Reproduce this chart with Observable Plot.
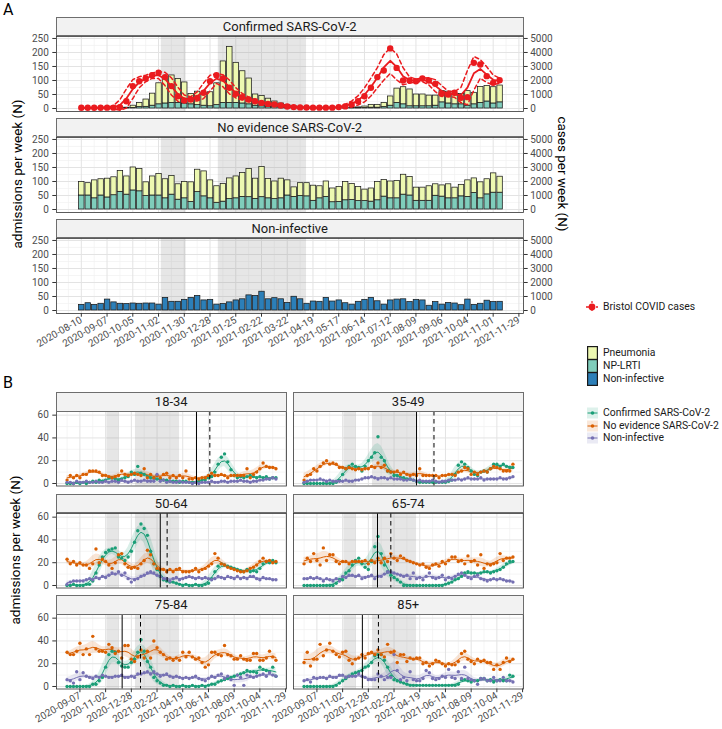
<!DOCTYPE html>
<html>
<head>
<meta charset="utf-8">
<script src="https://cdn.jsdelivr.net/npm/d3@7"></script>
<script src="https://cdn.jsdelivr.net/npm/@observablehq/plot@0.6"></script>
<style>
html,body{margin:0;padding:0;background:#fff;}
#root{position:relative;width:722px;height:729px;overflow:hidden;font-family:Roboto,"Liberation Sans",sans-serif;font-weight:400;color:#1a1a1a;}
#root svg{position:absolute;overflow:visible;}
.strip{position:absolute;box-sizing:border-box;background:#f2f2f2;border:1px solid #6e6e6e;text-align:center;font-size:13px;font-weight:400;color:#1a1a1a;}
.lab{position:absolute;white-space:nowrap;font-weight:400;}
.rot{position:absolute;white-space:nowrap;font-size:13.5px;font-weight:400;color:#000;}
</style>
</head>
<body>
<div id="root"></div>
<script>
// ================= DATA =================
const weeks = ["2020-08-10","2020-08-17","2020-08-24","2020-08-31","2020-09-07","2020-09-14","2020-09-21","2020-09-28","2020-10-05","2020-10-12","2020-10-19","2020-10-26","2020-11-02","2020-11-09","2020-11-16","2020-11-23","2020-11-30","2020-12-07","2020-12-14","2020-12-21","2020-12-28","2021-01-04","2021-01-11","2021-01-18","2021-01-25","2021-02-01","2021-02-08","2021-02-15","2021-02-22","2021-03-01","2021-03-08","2021-03-15","2021-03-22","2021-03-29","2021-04-05","2021-04-12","2021-04-19","2021-04-26","2021-05-03","2021-05-10","2021-05-17","2021-05-24","2021-05-31","2021-06-07","2021-06-14","2021-06-21","2021-06-28","2021-07-05","2021-07-12","2021-07-19","2021-07-26","2021-08-02","2021-08-09","2021-08-16","2021-08-23","2021-08-30","2021-09-06","2021-09-13","2021-09-20","2021-09-27","2021-10-04","2021-10-11","2021-10-18","2021-10-25","2021-11-01","2021-11-08"];

const tickDatesA = ["2020-08-10","2020-09-07","2020-10-05","2020-11-02","2020-11-30","2020-12-28","2021-01-25","2021-02-22","2021-03-22","2021-04-19","2021-05-17","2021-06-14","2021-07-12","2021-08-09","2021-09-06","2021-10-04","2021-11-01","2021-11-29"];
const tickDatesB = ["2020-09-07","2020-11-02","2020-12-28","2021-02-22","2021-04-19","2021-06-14","2021-08-09","2021-10-04","2021-11-29"];
const yTicksA = [0,50,100,150,200,250];
const caseTicks = [0,1000,2000,3000,4000,5000];
const yTicksB = [0,20,40,60];

const lockStart = ["2020-11-05","2021-01-06"];
const lockEnd   = ["2020-12-02","2021-04-12"];

// Panel A (weekly admissions)
const confTotal = [0,0,0,0,0,0,1,3,10,20, 32,53,90,112,118,105,93,52,60,55, 58,90,168,220,163,133,107,50,45,35, 25,18,12,8,5,3,2,2,1,1, 1,2,3,4,7,13,13,20,43,71, 76,68,50,50,46,46,62,60,52,52, 62,56,77,80,76,82];
const confNpl   = [0,0,0,0,0,0,0,1,2,5, 6,10,15,18,20,20,18,15,12,10, 8,12,20,20,20,18,15,10,8,6, 5,4,2,2,1,1,1,1,0,0, 0,1,1,1,2,3,3,5,10,20, 15,8,8,8,8,10,22,18,15,15, 10,15,20,25,18,22];
const noevTotal = [98,94,104,108,110,115,137,118,150,145, 97,118,127,108,120,90,98,97,142,136, 104,83,91,111,118,130,145,110,152,109, 100,110,104,79,94,94,85,83,100,75, 80,98,91,80,71,75,98,105,100,102, 124,116,78,78,83,90,86,90,78,88, 104,111,97,108,129,117];
const noevNpl   = [50,50,40,50,43,51,63,53,68,65, 48,50,50,40,53,35,40,27,62,47, 40,24,28,37,40,45,44,38,44,40, 37,40,50,45,48,47,31,40,45,26, 27,33,34,30,30,28,33,46,40,40, 53,50,31,31,31,49,46,40,40,47, 45,59,40,54,60,60];
const nonInf    = [20,26,20,24,39,29,24,23,25,24, 25,25,21,45,31,31,38,45,52,36, 38,21,23,29,36,40,54,52,67,40, 44,40,27,49,40,24,32,31,45,32, 36,26,21,31,38,45,33,21,36,39, 40,30,38,36,17,30,21,27,25,19, 39,20,24,35,30,31];
const bristolCases = [50,50,50,50,60,60,100,520,1600,1950, 2140,2380,2550,2240,1600,880,570,640,760,1120, 1950,2380,2140,1480,1050,810,640,520,400,330, 290,210,140,100,80,70,60,60,60,60, 100,150,290,520,880,1480,2240,2710,4290,2900, 2000,2000,1950,2140,2000,1760,1050,1000,1120,760, 810,3260,3140,2310,1830,2020];
const CASE_RATIO = 20; // secondary axis: cases = admissions scale * 20

// Panel B (weekly admissions by age group)
const ageGroups = ["18-34","35-49","50-64","65-74","75-84","85+"];
const categories = ["Confirmed SARS-CoV-2","No evidence SARS-CoV-2","Non-infective"];
const conf_1834 = [0,0,0,1,0,1,0,1, 2,1,3,2,3,5,5,4, 3,4,5,6,10,8,15,9, 8,6,5,5,4,4,3,3, 2,2,2,1,2,2,1,1, 1,2,3,3,5,6,10,17, 23,26,19,12,7,5,6,5, 6,7,6,5,6,5,6,4, 5,5];
const noev_1834 = [3,7,5,7,5,8,8,11,11,11, 10,7,7,6,5,6,7,11,8,7, 8,9,8,7,13,5,8,5,7,5, 8,9,5,7,5,7,5,11,4,4, 5,4,5,5,7,9,7,7,8,7, 5,7,7,7,7,7,13,5,8,10, 13,18,15,14,14,13];
const noni_1834 = [1,1,0,2,1,1,2,1,1,2, 1,1,2,1,2,2,1,3,2,1, 2,3,2,2,3,2,2,2,8,2, 3,1,2,1,1,2,1,1,1,0, 1,0,1,1,1,2,1,1,2,2, 1,2,2,2,3,2,2,1,2,2, 3,3,4,4,5,4];
const conf_3549 = [0,0,0,0,0,0,0,0,0,0, 1,3,8,13,15,17,15,14,11,15, 20,23,27,41,23,20,11,10,7,7, 5,5,4,4,3,2,1,1,1,1, 1,1,1,1,1,2,3,8,16,19, 17,14,11,8,7,10,11,10,13,17, 17,15,17,15,14,14];
const noev_3549 = [3,7,8,13,11,15,18,20,17,18, 17,14,14,13,14,13,12,13,12,13, 13,15,14,18,14,16,11,10,10,11, 8,10,8,7,8,7,13,7,7,7, 7,7,5,7,7,8,8,7,10,11, 14,13,8,10,8,10,11,10,13,15, 14,13,11,11,11,17];
const noni_3549 = [1,2,3,3,3,4,3,2,3,2, 2,2,2,3,2,2,3,3,4,5, 5,6,5,4,5,5,4,5,4,4, 4,3,3,4,3,2,3,2,2,2, 3,2,1,2,2,3,3,3,4,3, 4,5,4,4,4,5,3,4,4,4, 4,5,4,4,5,6];
const conf_5064 = [0,0,1,0,0,0,1,1, 4,11,18,25,29,31,32,33, 25,24,22,25,30,38,48,54, 50,44,30,19,14,8,5,4, 3,3,2,1,0,1,0,0, 1,0,0,1,2,6,12,17, 19,18,17,16,15,14,13,12, 14,12,13,12,15,19,21,20, 22,20];
const noev_5064 = [23,19,21,18,20,18,18,15,19,32, 20,23,21,18,15,20,27,28,19,16, 15,16,15,19,22,31,27,19,15,14, 14,12,14,12,14,15,12,12,12,13, 15,12,14,15,17,19,28,24,19,18, 16,15,14,13,12,12,13,15,16,18, 21,24,21,22,20,21];
const noni_5064 = [1,3,4,4,4,4,5,6,5,7, 6,8,7,9,11,10,12,9,11,6, 3,5,6,8,9,11,12,11,9,8, 6,6,4,6,7,5,6,7,8,7, 6,7,6,7,6,5,6,8,7,6, 8,7,6,8,6,7,6,8,8,6, 5,7,6,6,5,5];
const conf_6574 = [0,0,0,0,0,0,0,0,0,0, 2,5,5,11,13,18,22,24,19,16, 14,21,34,43,28,18,12,9,7,5, 3,0,0,0,0,0,0,0,0,0, 0,0,0,0,1,2,3,5,6,8, 11,12,11,11,10,11,12,12,11,12, 13,14,16,19,21,21];
const noev_6574 = [19,24,21,28,22,18,33,22,27,27, 21,19,21,21,19,21,21,21,21,22, 19,22,20,24,20,24,21,28,24,22, 26,24,22,21,20,19,18,19,16,15, 18,19,17,21,19,22,25,25,21,22, 19,26,21,22,18,27,15,19,18,19, 20,28,22,24,24,25];
const noni_6574 = [6,6,7,6,7,6,4,6,5,4, 6,4,8,7,9,9,8,9,6,7, 8,9,6,8,8,10,12,12,11,10, 9,8,9,6,11,6,7,5,8,11, 7,6,7,9,5,7,6,8,10,11, 9,7,6,8,9,6,5,4,5,6, 5,6,5,4,4,3];
const conf_7584 = [0,0,0,0,0,0,0,0,2,2, 5,8,17,28,31,30,21,18,17,17, 21,24,30,41,31,22,17,8,5,3, 1,1,0,1,0,0,1,0,0,1, 0,0,1,0,1,2,2,4,5,6, 7,8,9,10,11,12,14,13,13,12, 17,15,14,13,17,9];
const noev_7584 = [30,28,28,31,38,28,33,28,44,33, 31,31,30,37,34,29,31,25,36,36, 24,22,26,32,25,31,25,40,34,30, 28,24,25,23,25,23,30,26,30,26, 24,25,21,17,19,30,30,28,27,36, 28,27,24,24,27,24,23,23,29,29, 23,23,25,31,26,23];
const noni_7584 = [6,5,3,13,6,12,9,8,7,9, 8,10,9,8,8,9,9,10,8,8, 9,8,11,11,12,13,11,13,11,9, 10,11,9,8,9,8,7,8,7,8, 9,7,6,5,7,9,8,10,11,7, 9,6,1,10,8,1,10,9,8,9, 10,11,9,12,10,9];
const conf_85 = [0,0,0,0,0,0,0,0,0,0, 1,3,5,7,9,11,12,13,14,17, 18,21,27,28,28,23,17,9,6,5, 4,3,2,1,1,1,1,1,1,1, 1,1,1,1,1,1,1,1,2,6, 6,5,4,5,5,7,7,5,6,4, 5,6,5,5,10,9];
const noev_85 = [21,30,18,24,24,37,27,32,38,31, 28,26,30,31,23,20,24,25,28,25, 29,30,28,32,28,26,37,30,31,21, 28,28,22,25,24,25,25,20,21,18, 20,23,22,20,18,20,19,19,22,29, 31,24,22,20,24,22,23,21,21,15, 19,15,21,25,22,24];
const noni_85 = [5,6,4,8,7,8,8,7,9,8, 8,10,10,8,9,9,9,11,9,8, 6,6,6,11,9,6,8,8,28,14, 6,8,5,13,6,5,5,7,14,12, 7,6,7,9,8,15,8,7,13,7, 17,7,6,5,2,7,7,5,5,8, 5,5,8,5,5,4];
const vaccSolid  = ["2021-05-19","2021-04-12","2021-03-01","2021-01-17","2020-12-08","2020-12-15"];
const vaccDashed = ["2021-06-17","2021-05-20","2021-03-16","2021-02-15","2021-01-17","2021-01-19"];

// ================= STYLE =================
const fillColors = {"Pneumonia": "#edf8b1", "NP-LRTI": "#7fcdbb", "Non-infective": "#2c7fb8"};
const catColors = ["#1b9e77","#d95f02","#7570b3"];
const red = "#ea1b1f";
const FONT = "Roboto, 'Liberation Sans', sans-serif";

// ================= BUILD =================
const parse = d3.utcParse("%Y-%m-%d");
const root = document.getElementById("root");
const majorA = tickDatesA.map(parse);
const minorA = majorA.map(t => d3.utcDay.offset(t, -14));
const majorB = tickDatesB.map(parse);
const minorB = majorA.filter((t, i) => i % 2 === 0);
const bands = lockStart.map((s, i) => ({start: parse(s), end: parse(lockEnd[i])}));

const rowsA = weeks.map((w, k) => ({
  date: parse(w), confTotal: confTotal[k], confNpl: confNpl[k],
  noevTotal: noevTotal[k], noevNpl: noevNpl[k], nonInf: nonInf[k], cases: bristolCases[k]
}));
const seriesB = {
  "18-34": [conf_1834, noev_1834, noni_1834],
  "35-49": [conf_3549, noev_3549, noni_3549],
  "50-64": [conf_5064, noev_5064, noni_5064],
  "65-74": [conf_6574, noev_6574, noni_6574],
  "75-84": [conf_7584, noev_7584, noni_7584],
  "85+":   [conf_85, noev_85, noni_85]
};
const rowsB = [];
for (const g of ageGroups) categories.forEach((c, ci) => weeks.forEach((w, k) => rowsB.push({group: g, cat: c, date: parse(w), v: seriesB[g][ci][k]})));

// Kernel smoother (loess-like) used through Plot.map; side=±1 gives confidence bounds
function kern(bw, mult = 1.96, side = 0) {
  return (V) => {
    const v = Array.from(V, Number), n = v.length;
    return v.map((_, i) => {
      let sw = 0, sww = 0, s = 0;
      for (let j = 0; j < n; j++) { const w = Math.exp(-0.5 * ((i - j) / bw) ** 2); sw += w; sww += w * w; s += w * v[j]; }
      const m = s / sw;
      if (!side) return m;
      let r = 0;
      for (let j = 0; j < n; j++) { const w = Math.exp(-0.5 * ((i - j) / bw) ** 2); r += w * (v[j] - m) ** 2; }
      const se = Math.sqrt(r / sw) / Math.sqrt(sw * sw / sww);
      return m + side * mult * se;
    });
  };
}

// Week-centred bar interval
const weekCentered = {
  floor: d => new Date(+d - 3.5 * 864e5),
  offset: (d, n = 1) => new Date(+d + n * 7 * 864e5)
};

const gridMinor = {stroke: "#f1f1f1", strokeOpacity: 1, strokeWidth: 0.7};
const gridMajor = {stroke: "#e3e3e3", strokeOpacity: 1, strokeWidth: 1};
const axisStyle = {fontSize: 10, fill: "#4d4d4d", stroke: "#333", tickSize: 3.7, label: null};

// ---------- Panel A ----------
const domA = [parse("2020-07-14"), parse("2021-12-04")];
const A_TOPS = [35.5, 136.5, 237.5], A_H = 75;
function facetA(i, marks, withX) {
  const mb = withX ? 60 : 6;
  const svg = Plot.plot({
    width: 580, height: 6 + A_H + mb,
    marginLeft: 56, marginRight: 57, marginTop: 6, marginBottom: mb,
    x: {type: "utc", domain: domA, axis: null, label: null},
    y: {domain: [-10.7, 257], axis: null, label: null},
    style: {fontFamily: FONT, background: "transparent", overflow: "visible"},
    marks: [
      Plot.gridX(minorA, gridMinor),
      Plot.gridY([25,75,125,175,225], gridMinor),
      Plot.gridX(majorA, gridMajor),
      Plot.gridY(yTicksA, gridMajor),
      Plot.rect(bands, {x1: "start", x2: "end", fill: "#8c8c8c", fillOpacity: 0.22}),
      ...marks,
      Plot.frame({stroke: "#333", strokeWidth: 0.8}),
      Plot.axisY(yTicksA, {...axisStyle, anchor: "left", tickPadding: 4}),
      Plot.axisY(yTicksA, {...axisStyle, anchor: "right", tickPadding: 3, tickFormat: d => String(d * CASE_RATIO)}),
      ...(withX ? [Plot.axisX(majorA, {...axisStyle, anchor: "bottom", tickRotate: -30, tickPadding: 2, tickFormat: d3.utcFormat("%Y-%m-%d")})] : [])
    ]
  });
  svg.style.left = "0px";
  svg.style.top = (A_TOPS[i] - 6) + "px";
  root.appendChild(svg);
}
const barStroke = {stroke: "#1a1a1a", strokeWidth: 0.75};
const caseY = d => d.cases / CASE_RATIO;
facetA(0, [
  Plot.rectY(rowsA.filter(d => d.confTotal > 0), {x: "date", interval: weekCentered, y1: 0, y2: "confNpl", fill: fillColors["NP-LRTI"], ...barStroke}),
  Plot.rectY(rowsA.filter(d => d.confTotal > 0), {x: "date", interval: weekCentered, y1: "confNpl", y2: "confTotal", fill: fillColors["Pneumonia"], ...barStroke}),
  Plot.line(rowsA, Plot.map({y: kern(0.9, 2.0, 1)}, {x: "date", y: caseY, stroke: red, strokeWidth: 1.5, strokeDasharray: "4,3"})),
  Plot.line(rowsA, Plot.map({y: kern(0.9, 2.0, -1)}, {x: "date", y: caseY, stroke: red, strokeWidth: 1.5, strokeDasharray: "4,3"})),
  Plot.line(rowsA, Plot.map({y: kern(0.9)}, {x: "date", y: caseY, stroke: red, strokeWidth: 1.8})),
  Plot.dot(rowsA, {x: "date", y: caseY, fill: red, r: 3.2})
], false);
facetA(1, [
  Plot.rectY(rowsA, {x: "date", interval: weekCentered, y1: 0, y2: "noevNpl", fill: fillColors["NP-LRTI"], ...barStroke}),
  Plot.rectY(rowsA, {x: "date", interval: weekCentered, y1: "noevNpl", y2: "noevTotal", fill: fillColors["Pneumonia"], ...barStroke})
], false);
facetA(2, [
  Plot.rectY(rowsA, {x: "date", interval: weekCentered, y1: 0, y2: "nonInf", fill: fillColors["Non-infective"], ...barStroke})
], true);

// ---------- Panel B ----------
const domB = [parse("2020-07-18"), parse("2021-12-01")];
const B_TOPS = [411, 512.5, 614], B_H = 74.5, B_LEFTS = [0, 237];
function facetB(gi) {
  const r = Math.floor(gi / 2), c = gi % 2, g = ageGroups[gi];
  const data = rowsB.filter(d => d.group === g);
  const withX = r === 2, withY = c === 0;
  const mb = withX ? 60 : 6;
  const svg = Plot.plot({
    width: 296, height: 6 + B_H + mb,
    marginLeft: 56, marginRight: 10, marginTop: 6, marginBottom: mb,
    x: {type: "utc", domain: domB, axis: null, label: null},
    y: {domain: [-2.2, 63.2], axis: null, label: null},
    color: {domain: categories, range: catColors},
    style: {fontFamily: FONT, background: "transparent", overflow: "visible"},
    marks: [
      Plot.gridX(minorB, gridMinor),
      Plot.gridY([10,30,50], gridMinor),
      Plot.gridX(majorB, gridMajor),
      Plot.gridY(yTicksB, gridMajor),
      Plot.rect(bands, {x1: "start", x2: "end", fill: "#8c8c8c", fillOpacity: 0.22}),
      Plot.areaY(data, Plot.map({y1: kern(1.5, 1.96, -1), y2: kern(1.5, 1.96, 1)}, {x: "date", y1: "v", y2: "v", fill: "cat", fillOpacity: 0.16})),
      Plot.line(data, Plot.map({y: kern(1.5)}, {x: "date", y: "v", stroke: "cat", strokeWidth: 1})),
      Plot.dot(data, {x: "date", y: "v", fill: "cat", r: 1.7}),
      Plot.ruleX([parse(vaccSolid[gi])], {stroke: "#000", strokeWidth: 1}),
      Plot.ruleX([parse(vaccDashed[gi])], {stroke: "#000", strokeWidth: 1, strokeDasharray: "4.5,3.5"}),
      Plot.frame({stroke: "#333", strokeWidth: 0.8}),
      ...(withY ? [Plot.axisY(yTicksB, {...axisStyle, anchor: "left", tickPadding: 4})] : []),
      ...(withX ? [Plot.axisX(majorB, {...axisStyle, anchor: "bottom", tickRotate: -30, tickPadding: 2, tickFormat: d3.utcFormat("%Y-%m-%d")})] : [])
    ]
  });
  svg.style.left = B_LEFTS[c] + "px";
  svg.style.top = (B_TOPS[r] - 6) + "px";
  root.appendChild(svg);
}
ageGroups.forEach((g, i) => facetB(i));

// ---------- Strips, titles, legends ----------
function strip(x1, x2, y1, y2, text) {
  const d = document.createElement("div");
  d.className = "strip";
  Object.assign(d.style, {left: x1 + "px", top: y1 + "px", width: (x2 - x1) + "px", height: (y2 - y1) + "px", lineHeight: (y2 - y1 - 2) + "px"});
  d.textContent = text;
  root.appendChild(d);
}
const stripNamesA = ["Confirmed SARS-CoV-2", "No evidence SARS-CoV-2", "Non-infective"];
A_TOPS.forEach((t, i) => strip(56, 523.5, t - 18.5, t + 0.5, stripNamesA[i]));
ageGroups.forEach((g, i) => {
  const r = Math.floor(i / 2), c = i % 2;
  const x1 = c === 0 ? 56 : 293;
  strip(x1, x1 + 230.5, B_TOPS[r] - 19, B_TOPS[r] + 0.5, g);
});

function label(text, x, y, css = {}) {
  const d = document.createElement("div");
  d.className = "lab";
  d.textContent = text;
  Object.assign(d.style, {left: x + "px", top: y + "px"}, css);
  root.appendChild(d);
  return d;
}
function rotLabel(text, cx, cy, deg) {
  const d = document.createElement("div");
  d.className = "rot";
  d.textContent = text;
  Object.assign(d.style, {left: cx + "px", top: cy + "px", transform: `translate(-50%,-50%) rotate(${deg}deg)`});
  root.appendChild(d);
}
label("A", 3, 0, {fontSize: "16px", color: "#000"});
label("B", 3, 373, {fontSize: "16px", color: "#000"});
rotLabel("admissions per week (N)", 17, 174, -90);
rotLabel("cases per week (N)", 563, 174, 90);
rotLabel("admissions per week (N)", 15, 550, -90);

const LEG_FONT = "10.4px";
// Bristol cases legend
(function () {
  const s = document.createElementNS("http://www.w3.org/2000/svg", "svg");
  s.setAttribute("width", 14); s.setAttribute("height", 14);
  s.style.left = "585px"; s.style.top = "300px";
  s.innerHTML = `<line x1="1" x2="13" y1="7" y2="7" stroke="${red}" stroke-width="1.5" stroke-dasharray="3,2"/>
    <line x1="7" x2="7" y1="1" y2="13" stroke="${red}" stroke-width="1.2" stroke-dasharray="2,2"/>
    <circle cx="7" cy="7" r="3.4" fill="${red}"/>`;
  root.appendChild(s);
  label("Bristol COVID cases", 603, 300, {fontSize: LEG_FONT, lineHeight: "14px"});
})();

// Fill legend
const fillNames = ["Pneumonia", "NP-LRTI", "Non-infective"];
fillNames.forEach((n, i) => {
  const cy = 353 + i * 13;
  const s = document.createElementNS("http://www.w3.org/2000/svg", "svg");
  s.setAttribute("width", 11); s.setAttribute("height", 14);
  s.style.left = "586.5px"; s.style.top = (cy - 7) + "px";
  s.innerHTML = `<rect x="0.6" y="0.6" width="9.8" height="12.8" fill="${fillColors[n]}" stroke="#1a1a1a" stroke-width="1.2"/>`;
  root.appendChild(s);
  label(n, 603, cy - 7, {fontSize: LEG_FONT, lineHeight: "14px"});
});

// Line legend
categories.forEach((n, i) => {
  const cy = 413 + i * 12.7;
  const col = catColors[i];
  const s = document.createElementNS("http://www.w3.org/2000/svg", "svg");
  s.setAttribute("width", 11); s.setAttribute("height", 12);
  s.style.left = "587px"; s.style.top = (cy - 6) + "px";
  s.innerHTML = `<rect x="0" y="0.5" width="11" height="11" fill="${col}" fill-opacity="0.15"/>
    <line x1="0.5" x2="10.5" y1="6" y2="6" stroke="${col}" stroke-width="1"/>
    <circle cx="5.5" cy="6" r="1.8" fill="${col}"/>`;
  root.appendChild(s);
  label(n, 603, cy - 7, {fontSize: LEG_FONT, lineHeight: "14px"});
});
</script>
</body>
</html>
